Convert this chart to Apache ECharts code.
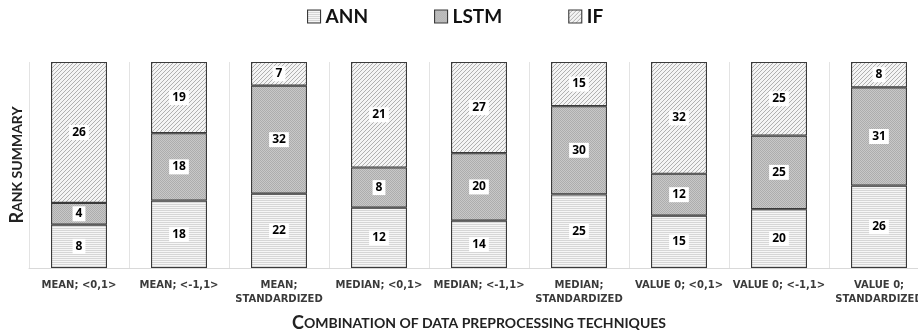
<!DOCTYPE html>
<html>
<head>
<meta charset="utf-8">
<script src="https://cdn.jsdelivr.net/npm/echarts@6/dist/echarts.min.js"></script>
<style>
  html, body { margin: 0; padding: 0; background: #fff; overflow: hidden; }
  #chart { width: 918px; height: 334px; }
</style>
</head>
<body>
<div id="chart"></div>
<script>
// Preprocessing combinations (x axis) and rank sums per model
var categories = [
  'MEAN; <0,1>', 'MEAN; <-1,1>', 'MEAN;\nSTANDARDIZED',
  'MEDIAN; <0,1>', 'MEDIAN; <-1,1>', 'MEDIAN;\nSTANDARDIZED',
  'VALUE 0; <0,1>', 'VALUE 0; <-1,1>', 'VALUE 0;\nSTANDARDIZED'
];
var annValues  = [8, 18, 22, 12, 14, 25, 15, 20, 26];
var lstmValues = [4, 18, 32, 8, 20, 30, 12, 25, 31];
var ifValues   = [26, 19, 7, 21, 27, 15, 32, 25, 8];
var seriesNames = ['ANN', 'LSTM', 'IF'];

// Fill textures drawn on small canvases
function makePattern(w, h, draw) {
  var c = document.createElement('canvas');
  c.width = w; c.height = h;
  var ctx = c.getContext('2d');
  draw(ctx, w, h);
  return { image: c, repeat: 'repeat' };
}
var annFill = makePattern(2, 2, function (ctx) {
  ctx.fillStyle = '#f6f6f6'; ctx.fillRect(0, 0, 2, 2);
  ctx.fillStyle = '#d6d6d6'; ctx.fillRect(0, 0, 2, 1);
});
var lstmFill = makePattern(2, 2, function (ctx) {
  ctx.fillStyle = '#c8c8c8'; ctx.fillRect(0, 0, 2, 2);
  ctx.fillStyle = '#adadad'; ctx.fillRect(0, 0, 1, 1); ctx.fillRect(1, 1, 1, 1);
});
var ifFill = makePattern(4, 4, function (ctx) {
  ctx.fillStyle = '#f4f4f4'; ctx.fillRect(0, 0, 4, 4);
  ctx.fillStyle = '#b0b0b0';
  ctx.fillRect(3, 0, 1, 1); ctx.fillRect(2, 1, 1, 1);
  ctx.fillRect(1, 2, 1, 1); ctx.fillRect(0, 3, 1, 1);
});
var fills = [annFill, lstmFill, ifFill];

// Each column is shown as shares of its own total
var raw = [annValues, lstmValues, ifValues];
var totals = categories.map(function (_, i) {
  return annValues[i] + lstmValues[i] + ifValues[i];
});

var titleFont = 'Lato, "Open Sans", sans-serif';
var valueFont = '"Open Sans", Lato, sans-serif';

var series = raw.map(function (vals, s) {
  return {
    name: seriesNames[s],
    type: 'bar',
    stack: 'rank',
    barWidth: '56%',
    itemStyle: { color: fills[s], borderColor: '#3a3a3a', borderWidth: 1.1 },
    label: {
      show: true,
      position: 'inside',
      formatter: function (p) { return vals[p.dataIndex]; },
      color: '#000',
      fontFamily: valueFont,
      fontWeight: 'bold',
      fontSize: 12,
      backgroundColor: '#fff',
      padding: [2, 3, 1, 3]
    },
    emphasis: { disabled: true },
    data: vals.map(function (v, i) { return v / totals[i] * 100; })
  };
});

var chart = echarts.init(document.getElementById('chart'), null, { renderer: 'canvas' });
chart.setOption({
  animation: false,
  legend: {
    top: 2,
    left: 302,
    itemWidth: 13,
    itemHeight: 13,
    itemGap: 66,
    icon: 'rect',
    selectedMode: false,
    textStyle: { fontFamily: titleFont, fontWeight: 'bold', fontSize: 19, color: '#111' },
    data: seriesNames.map(function (n, s) {
      return { name: n, itemStyle: { color: fills[s], borderColor: '#3a3a3a', borderWidth: 1.1 } };
    })
  },
  grid: { left: 29, top: 62, width: 900, height: 206, outerBoundsMode: 'none', containLabel: false },
  xAxis: {
    type: 'category',
    data: categories,
    axisLine: { lineStyle: { color: '#d9d9d9', width: 1 } },
    axisTick: { show: false },
    splitLine: { show: true, interval: 0, lineStyle: { color: '#e3e3e3', width: 1 } },
    axisLabel: {
      interval: 0,
      margin: 10,
      color: '#3a3a3a',
      fontFamily: '"DejaVu Sans", sans-serif',
      fontWeight: 'bold',
      fontSize: 10,
      lineHeight: 14
    },
    name: '{a|C}{b|OMBINATION OF DATA PREPROCESSING TECHNIQUES}',
    nameLocation: 'middle',
    nameGap: 46,
    nameTextStyle: {
      rich: {
        a: { fontFamily: titleFont, fontWeight: 'bold', fontSize: 18, color: '#222' },
        b: { fontFamily: titleFont, fontWeight: 'bold', fontSize: 14, color: '#222' }
      }
    }
  },
  yAxis: {
    type: 'value',
    min: 0,
    max: 100,
    axisLine: { show: false },
    axisTick: { show: false },
    axisLabel: { show: false },
    splitLine: { show: false },
    name: '{a|R}{b|ANK SUMMARY}',
    nameLocation: 'middle',
    nameRotate: 90,
    nameGap: 3,
    nameTextStyle: {
      rich: {
        a: { fontFamily: titleFont, fontWeight: 'bold', fontSize: 18, color: '#222' },
        b: { fontFamily: titleFont, fontWeight: 'bold', fontSize: 14, color: '#222' }
      }
    }
  },
  series: series
});
</script>
</body>
</html>
